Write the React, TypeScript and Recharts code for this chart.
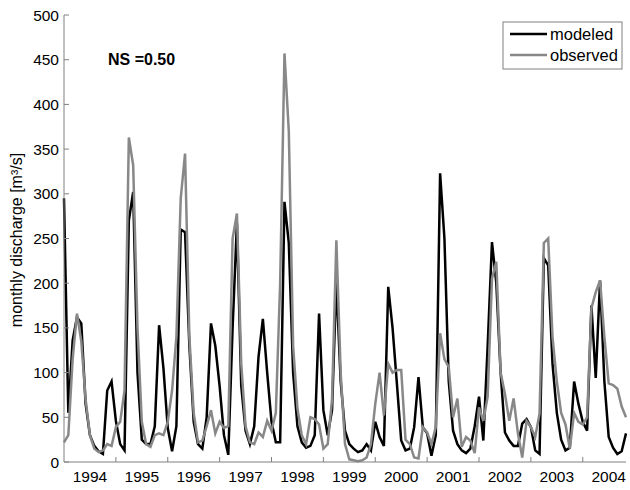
import React from 'react';
import { LineChart, Line, XAxis, YAxis } from 'recharts';

// months since Jan 1994 (index), Jan 1994 .. Nov 2004
const MODELED = [
  295, 55, 136, 162, 155, 65, 30, 18, 12, 9, 80, 90,
  46, 20, 13, 270, 302, 100, 25, 20, 20, 40, 153, 105,
  38, 12, 40, 260, 257, 130, 45, 20, 15, 50, 155, 130,
  85, 30, 8, 150, 267, 85, 35, 20, 40, 118, 160, 100,
  45, 22, 22, 291, 245, 100, 40, 22, 16, 18, 30, 166,
  58, 30, 58, 202, 90, 35, 20, 15, 11, 13, 20, 13,
  45, 28, 18, 196, 150, 88, 24, 13, 15, 39, 95, 39,
  32, 7, 30, 323, 250, 90, 35, 20, 13, 10, 15, 40,
  73, 24, 130, 246, 200, 100, 33, 24, 18, 18, 43, 48,
  39, 13, 9, 228, 220, 110, 55, 25, 13, 16, 90, 65,
  45, 35, 175, 94, 203, 90, 28, 16, 9, 12, 32,
];

const OBSERVED = [
  22, 30, 115, 166, 135, 70, 30, 15, 11, 13, 20, 18,
  39, 45, 80, 363, 332, 150, 45, 20, 17, 30, 32, 30,
  45, 80, 140, 295, 345, 140, 55, 22, 24, 40, 58, 32,
  45, 38, 40, 250, 278, 110, 40, 22, 20, 33, 28, 46,
  35, 55, 200, 457, 370, 130, 60, 30, 20, 50, 48, 42,
  15, 20, 70, 248, 100, 20, 3, 2, 1, 2, 5, 20,
  65, 100, 52, 110, 100, 103, 103, 25, 20, 5, 4, 39,
  33, 20, 39, 144, 115, 106, 50, 71, 17, 28, 24, 10,
  61, 46, 73, 205, 224, 100, 76, 46, 71, 32, 5, 46,
  39, 28, 54, 245, 250, 140, 90, 55, 42, 15, 55, 45,
  42, 50, 172, 190, 203, 140, 88, 86, 82, 62, 50,
];

const YEAR_LABELS = ['1994', '1995', '1996', '1997', '1998', '1999', '2000', '2001', '2002', '2003', '2004'];
const Y_TICKS = [0, 50, 100, 150, 200, 250, 300, 350, 400, 450, 500];
const YEAR_STARTS = [12, 24, 36, 48, 60, 72, 84, 96, 108, 120];
const YEAR_MIDS = YEAR_LABELS.map((_, i) => i * 12 + 6);
const BOTTOM_TICKS = [...YEAR_STARTS, ...YEAR_MIDS].sort((a, b) => a - b);

const data = MODELED.map((v, i) => ({ m: i, modeled: v, observed: OBSERVED[i] }));

const AXIS = '#808080';
const FONT = '"Liberation Sans", Arial, Helvetica, sans-serif';
const FS = 15.5;
const LFS = 16.5;

const BottomTick = (props: any) => {
  const { x, y, payload } = props;
  const v = payload.value;
  if (v % 12 === 6) {
    return (
      <text x={x} y={y + 20} textAnchor="middle" fontSize={FS} fontFamily={FONT} fill="#000">
        {YEAR_LABELS[(v - 6) / 12]}
      </text>
    );
  }
  return <line x1={x} x2={x} y1={y} y2={y - 5} stroke={AXIS} />;
};

const TopTick = (props: any) => {
  const { x, y } = props;
  return <line x1={x} x2={x} y1={y} y2={y + 5} stroke={AXIS} />;
};

const LeftTick = (props: any) => {
  const { x, y, payload } = props;
  return (
    <g>
      <line x1={x} x2={x + 5} y1={y} y2={y} stroke={AXIS} />
      <text x={x - 5} y={y + 5.5} textAnchor="end" fontSize={FS} fontFamily={FONT} fill="#000">
        {payload.value}
      </text>
    </g>
  );
};

const RightTick = (props: any) => {
  const { x, y } = props;
  return <line x1={x} x2={x - 5} y1={y} y2={y} stroke={AXIS} />;
};

export default function App() {
  return (
    <div style={{ position: 'absolute', left: 0, top: 0, width: 630, height: 490, background: '#fff' }}>
      <LineChart width={630} height={490} data={data} margin={{ top: 15, right: 4, bottom: 0, left: 0 }}>
        <XAxis
          xAxisId="b"
          dataKey="m"
          type="number"
          domain={[0, 130]}
          ticks={BOTTOM_TICKS}
          interval={0}
          tick={<BottomTick />}
          tickLine={false}
          tickSize={0}
          tickMargin={0}
          height={28}
          axisLine={{ stroke: AXIS }}
        />
        <XAxis
          xAxisId="t"
          orientation="top"
          dataKey="m"
          type="number"
          domain={[0, 130]}
          ticks={YEAR_STARTS}
          interval={0}
          tick={<TopTick />}
          tickLine={false}
          tickSize={0}
          tickMargin={0}
          height={0}
          axisLine={{ stroke: AXIS }}
        />
        <YAxis
          yAxisId="l"
          type="number"
          domain={[0, 500]}
          ticks={Y_TICKS}
          interval={0}
          tick={<LeftTick />}
          tickLine={false}
          tickSize={0}
          tickMargin={0}
          width={64}
          axisLine={{ stroke: AXIS }}
          label={{
            content: () => (
              <text
                x={0}
                y={0}
                transform="translate(22, 240) rotate(-90)"
                textAnchor="middle"
                fontSize={16}
                fontFamily={FONT}
                fill="#000"
              >
                monthly discharge [m³/s]
              </text>
            ),
          }}
        />
        <YAxis
          yAxisId="r"
          orientation="right"
          type="number"
          domain={[0, 500]}
          ticks={Y_TICKS}
          interval={0}
          tick={<RightTick />}
          tickLine={false}
          tickSize={0}
          tickMargin={0}
          width={0}
          axisLine={{ stroke: AXIS }}
        />
        <Line
          xAxisId="b"
          yAxisId="l"
          type="linear"
          dataKey="modeled"
          stroke="#000000"
          strokeWidth={2.5}
          dot={false}
          isAnimationActive={false}
        />
        <Line
          xAxisId="b"
          yAxisId="l"
          type="linear"
          dataKey="observed"
          stroke="#888888"
          strokeWidth={2.5}
          dot={false}
          isAnimationActive={false}
        />
        <text x={108} y={65} fontSize={16} fontWeight="bold" fontFamily={FONT} fill="#000">
          NS =0.50
        </text>
        <g>
          <rect x={503} y={22} width={119} height={47} fill="#fff" stroke={AXIS} />
          <line x1={510} x2={547} y1={34} y2={34} stroke="#000" strokeWidth={2.5} />
          <text x={550} y={40} fontSize={LFS} fontFamily={FONT} fill="#000">modeled</text>
          <line x1={510} x2={547} y1={55} y2={55} stroke="#888888" strokeWidth={2.5} />
          <text x={550} y={61} fontSize={LFS} fontFamily={FONT} fill="#000">observed</text>
        </g>
      </LineChart>
    </div>
  );
}
